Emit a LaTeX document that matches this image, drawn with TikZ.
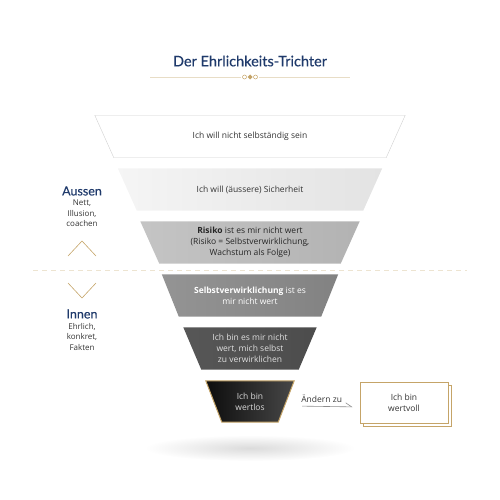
\documentclass[tikz,border=0pt]{standalone}
\usepackage{fontspec}
\setmainfont{Open Sans}
\newfontfamily\titelfont{Lato}[FakeBold=0.4]
\usetikzlibrary{positioning}
\usetikzlibrary{arrows.meta, shadows, backgrounds}

\definecolor{navy}{HTML}{1F3A6B}
\definecolor{gold}{HTML}{C5A468}
\definecolor{hellgold}{HTML}{E8DDC6}

% trapezoid behind a step node: #1 node, #2 inset of the lower side, #3 path options
\newcommand{\stufenform}[3]{%
  \begin{pgfonlayer}{background}
    \path[#3] (#1.north west) -- (#1.north east) -- ([xshift=-#2]#1.south east) -- ([xshift=#2]#1.south west) -- cycle;
  \end{pgfonlayer}}

\begin{document}
\begin{tikzpicture}[x=1pt, y=-1pt, >=latex, node distance=53pt, font=\fontsize{8.5}{11}\selectfont]%

        \tikzstyle{stufe} = [ rectangle, minimum height=42pt, inner sep=0pt, align=center]
        \tikzstyle{seite} = [ font=\titelfont\fontsize{12.5}{14}\selectfont, text=navy]
        \tikzstyle{seitentext} = [ align=center, text=black!80, inner sep=1pt, font=\fontsize{8}{10.5}\selectfont]
        \tikzstyle{winkel} = [ gold, line width=0.6pt]
        %
        \useasboundingbox (0,0) rectangle (500,500);

        %% Title
        \node [font=\titelfont\fontsize{14.5}{16}\selectfont, text=navy] (titel) at (250,61) {Der Ehrlichkeits-Trichter};
        \draw[hellgold, line width=0.8pt] (150,77) -- (241,77) (259,77) -- (350,77);
        \draw[gold, line width=0.5pt] (244.5,77) circle (2) (255.5,77) circle (2);
        \fill[gold] (250,74.5) -- (252.5,77) -- (250,79.5) -- (247.5,77) -- cycle;

        %% Shadow
        \shade[inner color=black!14, outer color=white] (250,448) ellipse (105 and 13);

        %% Funnel
        \node [stufe, minimum width=310pt, text=black!80] (s1) at (250,136.5) {Ich will nicht selbständig sein};
        \node [stufe, minimum width=264pt, text=black!80] (s2) [below of = s1] {Ich will (äussere) Sicherheit};
        \node [stufe, minimum width=219pt, text=black!85] (s3) [below of = s2] {\textbf{Risiko} ist es mir nicht wert\\(Risiko = Selbstverwirklichung,\\Wachstum als Folge)};
        \node [stufe, minimum width=176pt, text=white] (s4) [below of = s3] {\textbf{Selbstverwirklichung} ist es\\mir nicht wert};
        \node [stufe, minimum width=133pt, text=white!88!black] (s5) [below of = s4] {Ich bin es mir nicht\\wert, mich selbst\\zu verwirklichen};
        \node [stufe, minimum width=88pt, minimum height=41pt, text=white!85!black] (s6) [below of = s5] {Ich bin\\wertlos};

        \stufenform{s1}{19pt}{draw=black!18, fill=white}
        \stufenform{s2}{19pt}{left color=black!4, right color=black!11}
        \stufenform{s3}{19pt}{left color=black!23, right color=black!30}
        \stufenform{s4}{17pt}{left color=black!42, right color=black!49}
        \stufenform{s5}{18pt}{left color=black!66, right color=black!70}
        \stufenform{s6}{16pt}{left color=black!95, right color=black!72, draw=gold, line width=1pt}

        %% Target
        \node [draw=gold, line width=0.8pt, fill=white, minimum width=88pt, minimum height=41pt, align=center, text=black!80,
               copy shadow={shadow xshift=3pt, shadow yshift=-3pt, draw=gold, fill=white, line width=0.8pt}] (wert) at (404,402.5) {Ich bin\\wertvoll};

        \draw[-{Straight Barb[left, length=6pt, width=8pt]}, black!45, line width=0.6pt, shorten <=8pt, shorten >=7pt]
            ([yshift=-4.5pt]s6.east) -- node[above, text=black!80, pos=0.42] {Ändern zu} ([yshift=-4.5pt]wert.west);

        %% Divider
        \draw[hellgold!80, line width=0.8pt, dash pattern=on 5pt off 4pt] (33,270) -- (467,270);

        %% Outside / inside
        \node [seite] (aussen) at (82,191) {Aussen};
        \node [seitentext] (aussen_t) [below = 0pt of aussen] {Nett,\\Illusion,\\coachen};
        \draw[winkel] (68,256) -- (82,241) -- (96,256);

        \draw[winkel] (68,283) -- (82,298) -- (96,283);
        \node [seite] (innen) at (82,314) {Innen};
        \node [seitentext] (innen_t) [below = 0pt of innen] {Ehrlich,\\konkret,\\Fakten};

\end{tikzpicture}
\end{document}
